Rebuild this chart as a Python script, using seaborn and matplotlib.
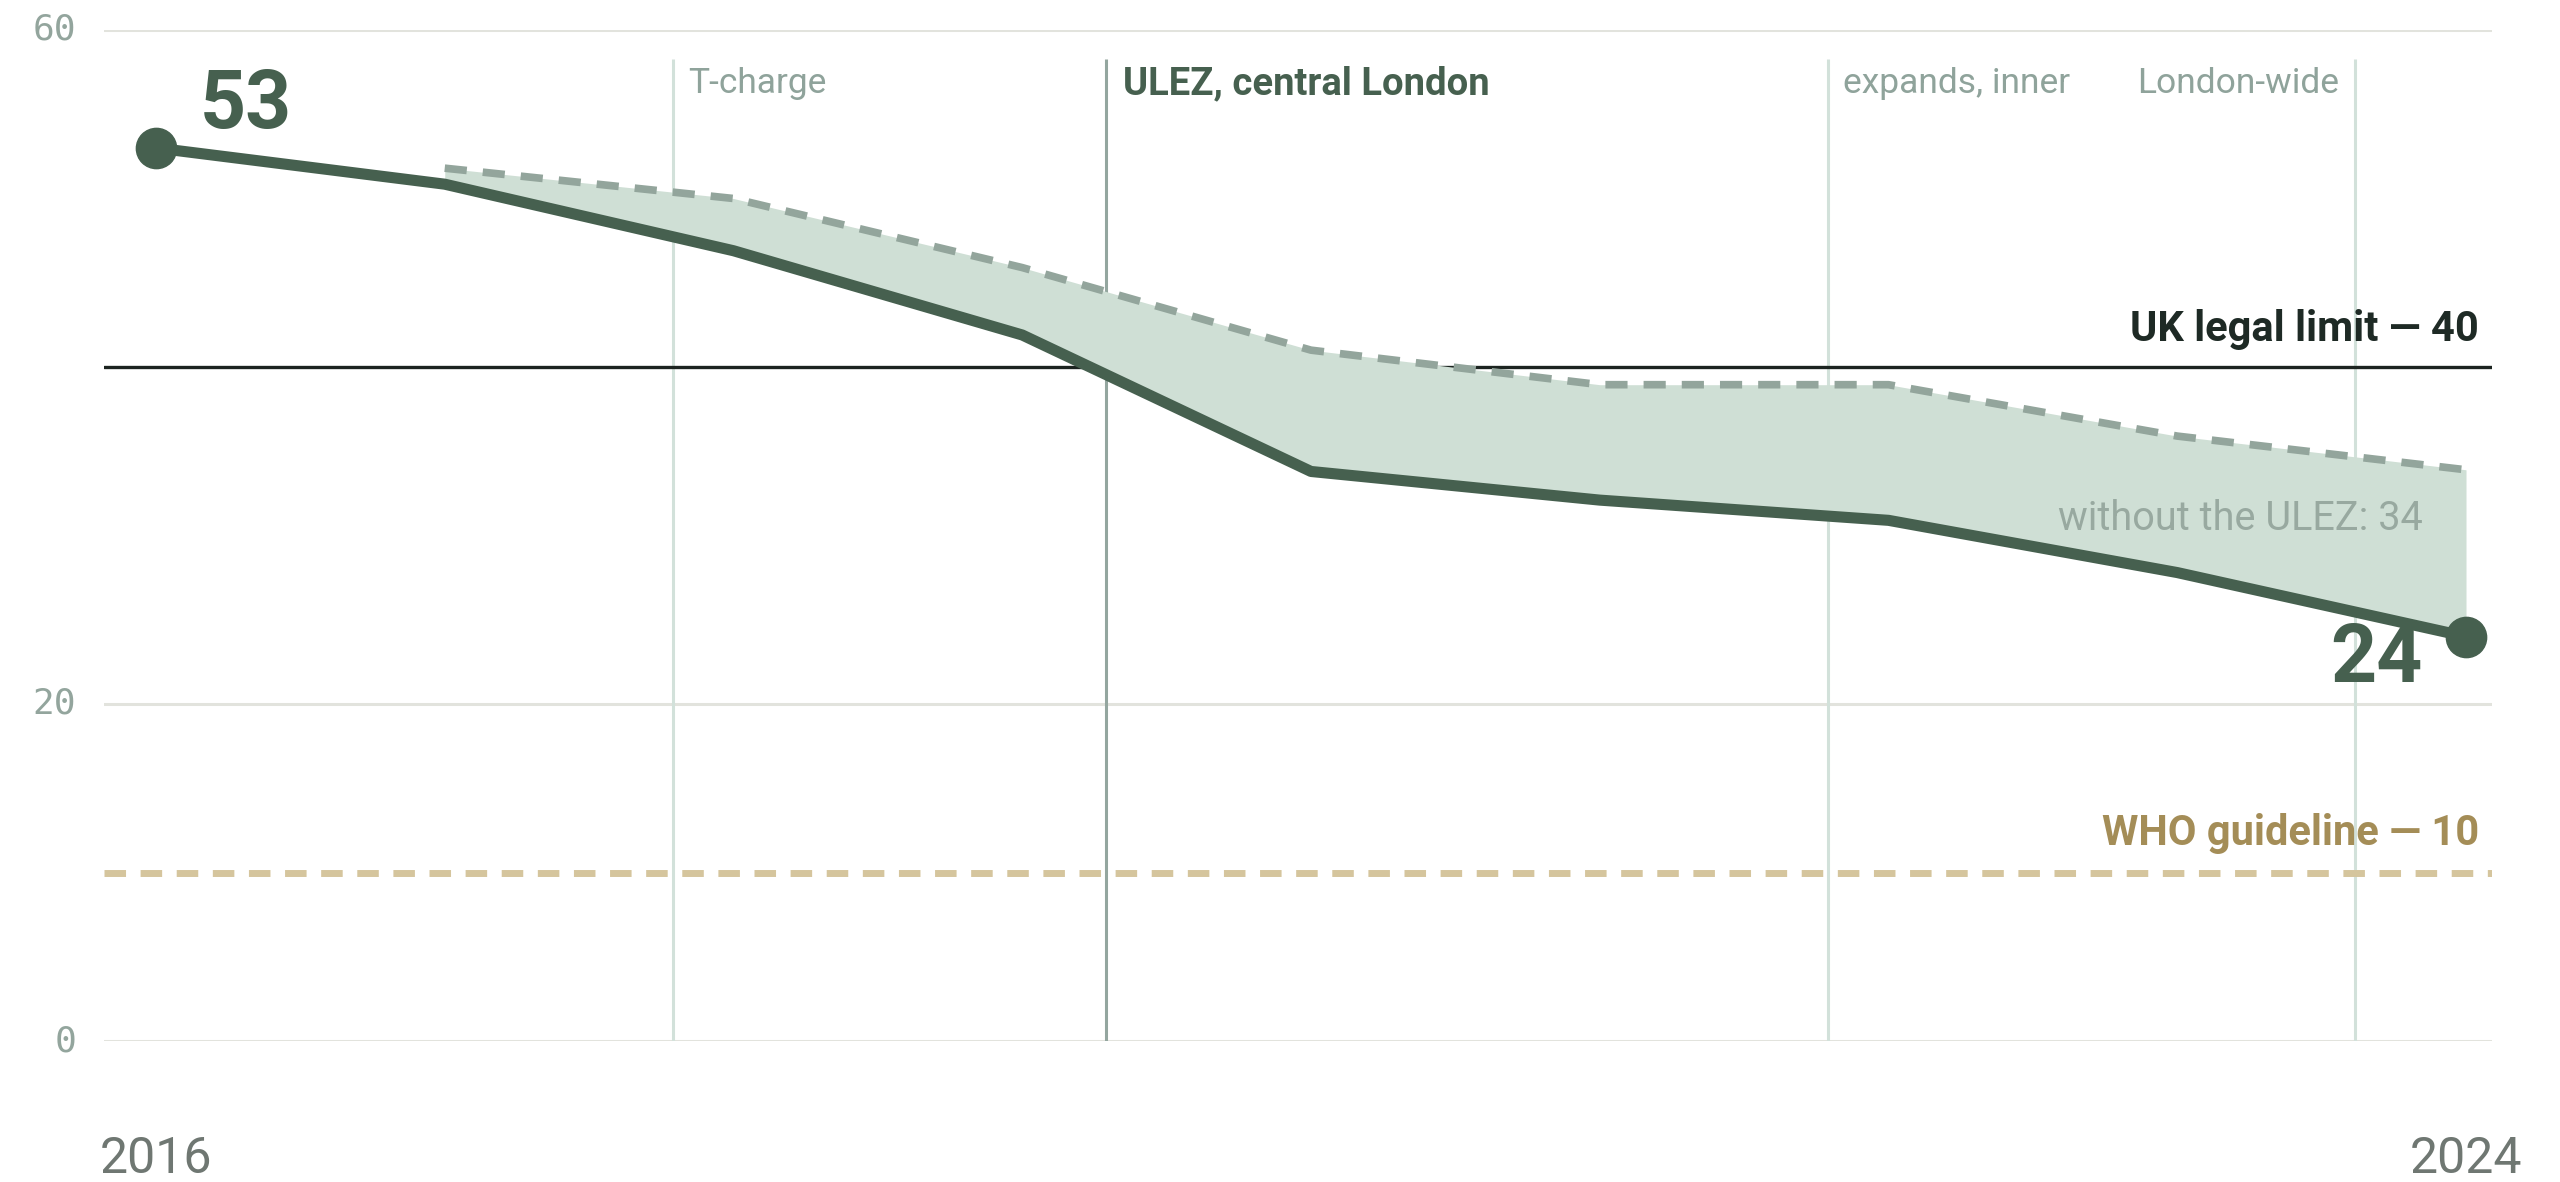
import matplotlib
matplotlib.use("Agg")
import matplotlib.pyplot as plt
import seaborn as sns
import pandas as pd

# ---- data ----
years = [2016, 2017, 2018, 2019, 2020, 2021, 2022, 2023, 2024]
actual = [53.0, 50.85, 46.9, 41.9, 33.8, 32.1, 30.9, 27.8, 24.0]
cf_years = [2017, 2018, 2019, 2020, 2021, 2022, 2023, 2024]
without_ulez = [51.8, 50.0, 45.9, 41.0, 38.95, 38.95, 35.9, 33.9]
events = [2017.79, 2019.29, 2021.79, 2023.615]
event_labels = ["T-charge", "ULEZ, central London", "expands, inner", "London-wide"]
uk_limit = 40
who_guideline = 10
y_ticks = [0, 20, 60]
x_ticks = [2016, 2024]

sns.set_theme(style="white")
plt.rcParams["font.family"] = ["Roboto", "DejaVu Sans"]

DARK = "#46604f"
FILL = "#cfdfd5"
DASH = "#93a59c"
GRID = "#e2e3dd"
EVT = "#d2e1da"
EVT_MAIN = "#94a69f"
LBL = "#8fa39b"
TAN = "#d5c59d"
TAN_TXT = "#a48d57"

fig = plt.figure(figsize=(25.6, 11.82), dpi=100)
ax = fig.add_axes([104 / 2560, 1 - 1041 / 1182, (2492 - 104) / 2560, (1041 - 30) / 1182])
ax.set_xlim(2015.82, 2024.09)
ax.set_ylim(0, 60)

# gridlines
for yv in y_ticks:
    ax.axhline(yv, color=GRID, lw=2.2, zorder=0)

# event lines
for i, (ev, lab) in enumerate(zip(events, event_labels)):
    col = EVT_MAIN if i == 1 else EVT
    ax.plot([ev, ev], [0, 58.3], color=col, lw=2.2, zorder=1, solid_capstyle="butt")
    if i == 3:
        ax.annotate(lab, (ev, 56.8), xytext=(-11, 0), textcoords="offset points",
                    ha="right", va="center", fontsize=25.5, color=LBL)
    elif i == 1:
        ax.annotate(lab, (ev, 56.8), xytext=(12, 0), textcoords="offset points",
                    ha="left", va="center", fontsize=27.5, color=DARK, fontweight="bold")
    else:
        ax.annotate(lab, (ev, 56.8), xytext=(11, 0), textcoords="offset points",
                    ha="left", va="center", fontsize=25.5, color=LBL)

# reference lines
ax.axhline(uk_limit, color="#1c2420", lw=2.4, zorder=2)
ax.axhline(who_guideline, color=TAN, lw=5, zorder=2, dashes=(3.1, 2.1))
ax.text(2024.045, 42.2, "UK legal limit — 40", ha="right", va="center",
        fontsize=30, fontweight="bold", color="#1e2a25")
ax.text(2024.045, 12.3, "WHO guideline — 10", ha="right", va="center",
        fontsize=30, fontweight="bold", color=TAN_TXT)

# fill between counterfactual and actual
df_a = pd.DataFrame({"year": years, "no2": actual})
df_c = pd.DataFrame({"year": cf_years, "no2": without_ulez})
act_sub = df_a[df_a["year"] >= cf_years[0]]["no2"].values
ax.fill_between(cf_years, act_sub, without_ulez, color=FILL, lw=0, zorder=3)

sns.lineplot(data=df_c, x="year", y="no2", ax=ax, color=DASH, lw=5.5,
             dashes=False, zorder=4)
ax.lines[-1].set_dashes((2.9, 2.1))
sns.lineplot(data=df_a, x="year", y="no2", ax=ax, color=DARK, lw=8, zorder=5)
ax.plot([years[0], years[-1]], [actual[0], actual[-1]], "o", color=DARK,
        markersize=29, zorder=6)

ax.text(2016.15, 55.5, f"{actual[0]:.0f}", ha="left", va="center", fontsize=58,
        fontweight="bold", color=DARK)
ax.text(2023.85, 22.6, f"{actual[-1]:.0f}", ha="right", va="center", fontsize=58,
        fontweight="bold", color=DARK)
ax.text(2023.85, 31.0, f"without the ULEZ: {without_ulez[-1]:.0f}", ha="right",
        va="center", fontsize=28.5, color="#98a9a0")

# axes styling
for s in ax.spines.values():
    s.set_visible(False)
ax.set_yticks(y_ticks)
ax.set_yticklabels([str(v) for v in y_ticks], family="DejaVu Sans Mono",
                   fontsize=26, color="#93a59d", va="center")
ax.tick_params(axis="y", length=0, pad=20)
ax.set_xticks(x_ticks)
ax.set_xticklabels([str(v) for v in x_ticks], fontsize=36, color="#6f7772")
ax.tick_params(axis="x", length=0, pad=68)
ax.set_xlabel("")
ax.set_ylabel("")
ax.grid(False)
legend = ax.get_legend()
if legend:
    legend.remove()

fig.savefig("out.png", dpi=100, facecolor="white")
